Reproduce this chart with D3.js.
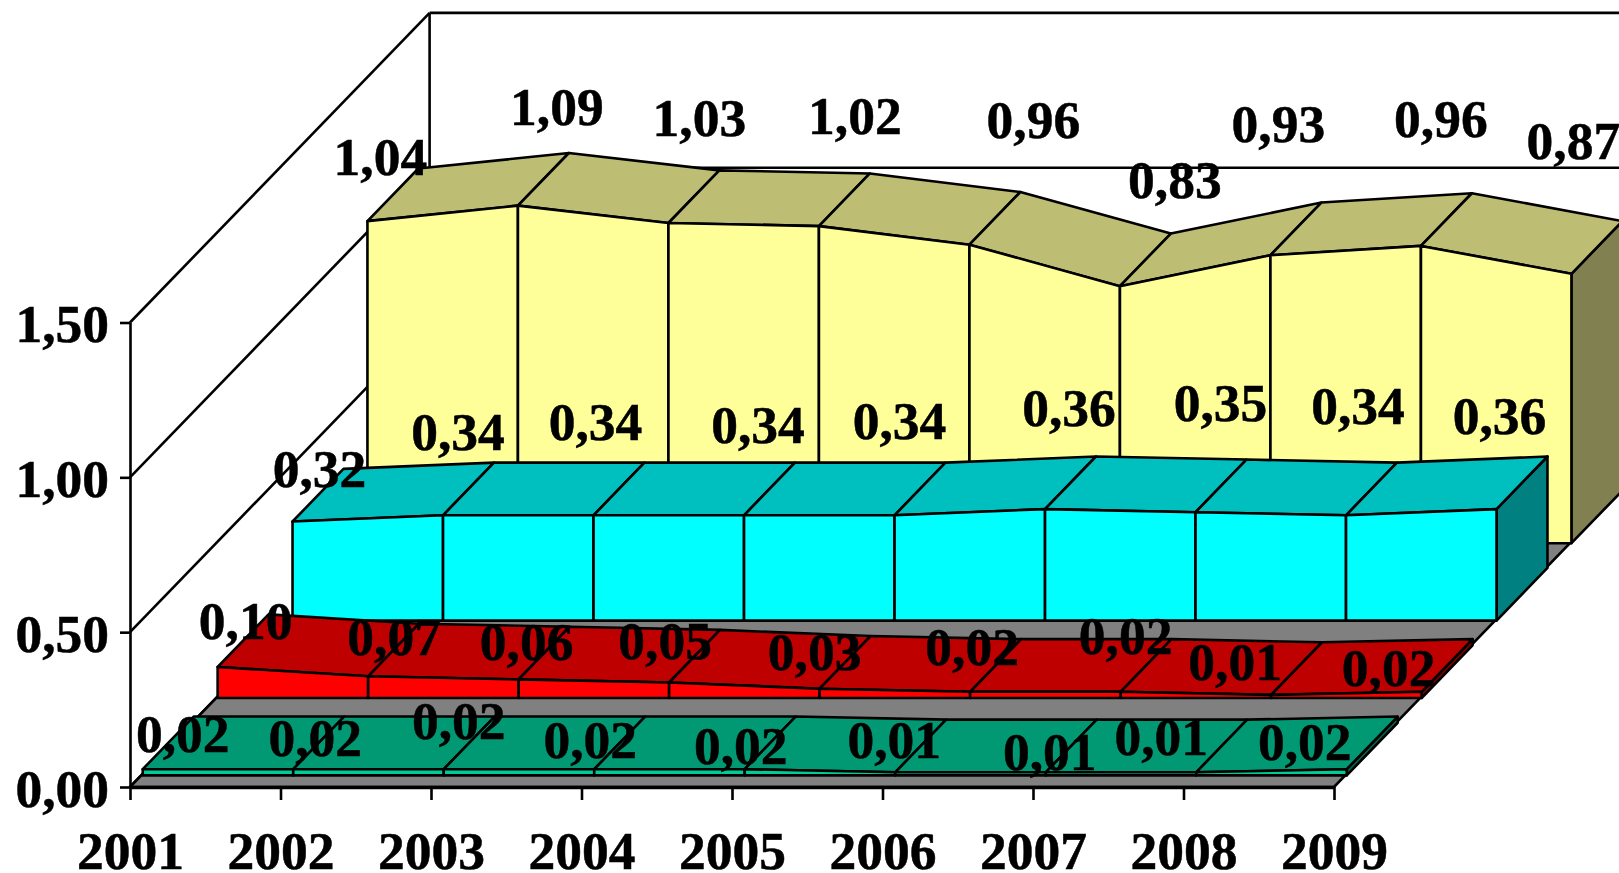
<!DOCTYPE html>
<html>
<head>
<meta charset="utf-8">
<script src="https://cdn.jsdelivr.net/npm/d3@7"></script>
<style>
  html, body { margin: 0; padding: 0; background: #fff; overflow: hidden; }
  svg { display: block; }
  text { font-family: "Liberation Serif", "Times New Roman", serif; font-weight: bold; font-size: 53.5px; fill: #000; stroke: #000; stroke-width: 0.5px; }
</style>
</head>
<body>
<div id="chart"></div>
<script>
// chart values, back row first
var years = ["2001", "2002", "2003", "2004", "2005", "2006", "2007", "2008", "2009"];
var yTickValues = [0, 0.5, 1, 1.5];
var yTickLabels = ["0,00", "0,50", "1,00", "1,50"];

var yellowValues = [1.04, 1.09, 1.034, 1.024, 0.964, 0.83, 0.93, 0.96, 0.87];
var cyanValues = [0.32, 0.34, 0.34, 0.34, 0.34, 0.36, 0.35, 0.34, 0.36];
var redValues = [0.10, 0.07, 0.06, 0.05, 0.03, 0.02, 0.02, 0.01, 0.02];
var greenValues = [0.02, 0.02, 0.02, 0.02, 0.02, 0.01, 0.01, 0.01, 0.02];

// hand placed labels, offset from the front top corner of each point
var yellowNudge = [[13, -46], [39, -81], [31, -87], [36, -92], [64, -107], [55, -88], [8, -113], [20, -109], [2, -115]];
var cyanNudge = [[27, -34], [15, -65], [2, -75], [14, -72], [5, -76], [24, -83], [25, -91], [12, -91], [3, -75]];
var redNudge = [[28, -28], [26, -21], [8, -19], [-4, -24], [-5, -19], [2, -27], [5, -38], [-36, -15], [-33, -6]];
var greenNudge = [[40, -17], [22, -13], [15, -30], [-4, -11], [-4, -5], [-1, -14], [4, -2], [-35, -17], [-42, -9]];

var width = 1619;
var height = 873;

var xScale = d3.scalePoint().domain(years).range([130, 1334]);
var yScale = d3.scaleLinear().domain([0, 1.5]).range([787, 322.5]);

// 3d look: one row of depth moves a point right and up by this much
var depthX = 74.9;
var depthY = 77.4;
var rowCount = 4;
var bandFront = 0.15;
var bandBack = 0.83;
var bandShiftX = 1.5;
var lineWidth = 2.6;

function project(i, value, row) {
    return [xScale(years[i]) + row * depthX, yScale(value) - row * depthY];
}

// same as project, for the series rows
function projectBand(i, value, row) {
    var p = project(i, value, row);
    return [p[0] + bandShiftX, p[1]];
}

var svg = d3
    .select("#chart")
    .append("svg")
    .attr("width", width)
    .attr("height", height);

var polyLine = d3.line();

function poly(parent, points, fill) {
    parent
        .append("path")
        .attr("d", polyLine(points) + "Z")
        .attr("fill", fill)
        .attr("stroke", "#000")
        .attr("stroke-width", lineWidth)
        .attr("stroke-linejoin", "round");
}

function edge(parent, a, b) {
    parent
        .append("line")
        .attr("x1", a[0])
        .attr("y1", a[1])
        .attr("x2", b[0])
        .attr("y2", b[1])
        .attr("stroke", "#000")
        .attr("stroke-width", lineWidth);
}

// walls
var last = years.length - 1;
var walls = svg.append("g").attr("class", "walls");
yTickValues.forEach(function(v) {
    edge(walls, project(0, v, 0), project(0, v, rowCount));
    edge(walls, project(0, v, rowCount), project(last, v, rowCount));
});
edge(walls, project(0, 0, rowCount), project(0, 1.5, rowCount));

// floor
poly(svg, [project(0, 0, 0), project(last, 0, 0), project(last, 0, rowCount), project(0, 0, rowCount)], "#808080");

var series = [
    { values: yellowValues, nudge: yellowNudge, row: 3, front: "#FFFF99", top: "#BDBD73", side: "#808050" },
    { values: cyanValues, nudge: cyanNudge, row: 2, front: "#00FFFF", top: "#00BFBF", side: "#008080" },
    { values: redValues, nudge: redNudge, row: 1, front: "#FF0000", top: "#BF0000", side: "#800000" },
    { values: greenValues, nudge: greenNudge, row: 0, front: "#00CC99", top: "#009973", side: "#00664D" }
];

// rows back to front so nearer ones cover the ones behind
series.forEach(function(s) {
    var g = svg.append("g");
    var zFront = s.row + bandFront;
    var zBack = s.row + bandBack;

    poly(g, [projectBand(last, 0, zFront), projectBand(last, s.values[last], zFront), projectBand(last, s.values[last], zBack), projectBand(last, 0, zBack)], s.side);

    for (var i = 0; i < last; i++) {
        poly(g, [projectBand(i, s.values[i], zFront), projectBand(i + 1, s.values[i + 1], zFront), projectBand(i + 1, s.values[i + 1], zBack), projectBand(i, s.values[i], zBack)], s.top);
        poly(g, [projectBand(i, 0, zFront), projectBand(i + 1, 0, zFront), projectBand(i + 1, s.values[i + 1], zFront), projectBand(i, s.values[i], zFront)], s.front);
    }
});

// axes
var yAxis = d3
    .axisLeft(yScale)
    .tickValues(yTickValues)
    .tickFormat(function(d, i) { return yTickLabels[i]; })
    .tickSize(10)
    .tickSizeOuter(0)
    .tickPadding(11);

var xAxis = d3
    .axisBottom(xScale)
    .tickSize(13)
    .tickSizeOuter(0)
    .tickPadding(0);

var yGroup = svg.append("g").attr("transform", "translate(" + xScale(years[0]) + ",0)").call(yAxis);
yGroup.selectAll("text").attr("dy", "19px");

var xGroup = svg.append("g").attr("transform", "translate(0," + yScale(0) + ")").call(xAxis);
xGroup.selectAll("text").attr("y", 82).attr("dy", 0);

[yGroup, xGroup].forEach(function(g) {
    g.attr("font-size", null).attr("font-family", null);
    g.selectAll("line, path").attr("stroke", "#000").attr("stroke-width", lineWidth);
});
xGroup.select("path").attr("stroke-width", 3.4);

// value labels on top of everything
series.forEach(function(s) {
    var zFront = s.row + bandFront;
    svg.append("g")
        .selectAll("text")
        .data(s.values)
        .enter()
        .append("text")
        .attr("text-anchor", "middle")
        .attr("x", function(d, i) { return projectBand(i, d, zFront)[0] + s.nudge[i][0]; })
        .attr("y", function(d, i) { return projectBand(i, d, zFront)[1] + s.nudge[i][1]; })
        .text(function(d) { return d.toFixed(2).replace(".", ","); });
});
</script>
</body>
</html>
